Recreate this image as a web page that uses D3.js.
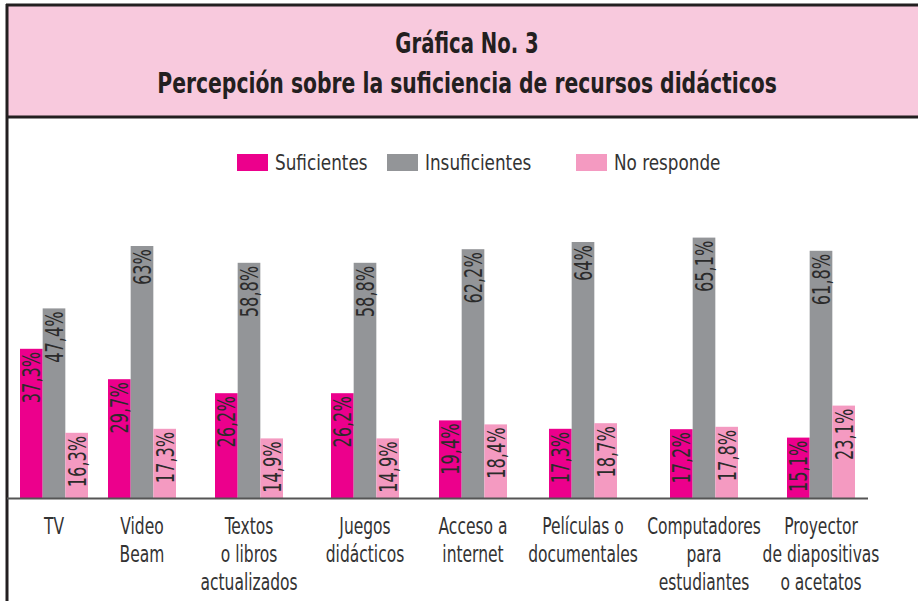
<!DOCTYPE html>
<html>
<head>
<meta charset="utf-8">
<script src="https://cdn.jsdelivr.net/npm/d3@7"></script>
<style>
  html, body { margin: 0; padding: 0; background: #fff; }
  svg { display: block; }
</style>
</head>
<body>
<div id="chart"></div>
<script>
"use strict";

// data
var categories = ["TV", "Video Beam", "Textos o libros actualizados", "Juegos didácticos",
  "Acceso a internet", "Películas o documentales", "Computadores para estudiantes",
  "Proyector de diapositivas o acetatos"];
var categoryLines = [
  ["TV"], ["Video", "Beam"], ["Textos", "o libros", "actualizados"], ["Juegos", "didácticos"],
  ["Acceso a", "internet"], ["Películas o", "documentales"], ["Computadores", "para", "estudiantes"],
  ["Proyector", "de diapositivas", "o acetatos"]
];
var seriesNames = ["Suficientes", "Insuficientes", "No responde"];
var suficientes   = [37.3, 29.7, 26.2, 26.2, 19.4, 17.3, 17.2, 15.1];
var insuficientes = [47.4, 63, 58.8, 58.8, 62.2, 64, 65.1, 61.8];
var noResponde    = [16.3, 17.3, 14.9, 14.9, 18.4, 18.7, 17.8, 23.1];

var colors = ["#ec008c", "#939598", "#f49ac1"];
var titleLines = ["Gráfica No. 3", "Percepción sobre la suficiencia de recursos didácticos"];

// layout
var width = 918, height = 601;
var baseY = 498;
// group centres are spaced unevenly in the original
var groupCenters = [54, 142, 249, 365, 473, 583, 704, 821];
var groupWidth = 68;

var series = [suficientes, insuficientes, noResponde];
var rows = [];
categories.forEach(function(c, i) {
  series.forEach(function(s, j) {
    rows.push({cat: c, key: seriesNames[j], value: s[i], idx: j});
  });
});

var x = d3.scaleOrdinal().domain(categories).range(groupCenters);
var xInner = d3.scaleBand().domain(seriesNames).range([-groupWidth / 2, groupWidth / 2]);
var y = d3.scaleLinear().domain([0, 100]).range([baseY, baseY - 400]);
var color = d3.scaleOrdinal().domain(seriesNames).range(colors);
var fmt = function(v) { return String(v).replace(".", ",") + "%"; };

var narrow = "'Liberation Sans Narrow', 'DejaVu Sans Condensed', 'Roboto Condensed', sans-serif";

var svg = d3.select("#chart").append("svg")
  .attr("width", width)
  .attr("height", height);

// header box
svg.append("rect")
  .attr("x", 7).attr("y", 5)
  .attr("width", width - 7).attr("height", 112)
  .attr("fill", "#f8c9dd");
svg.append("line")
  .attr("x1", 6).attr("x2", width)
  .attr("y1", 5).attr("y2", 5)
  .attr("stroke", "#231f20").attr("stroke-width", 3);
svg.append("line")
  .attr("x1", 6).attr("x2", width)
  .attr("y1", 117).attr("y2", 117)
  .attr("stroke", "#231f20").attr("stroke-width", 3);
svg.append("line")
  .attr("x1", 7).attr("x2", 7)
  .attr("y1", 4).attr("y2", height)
  .attr("stroke", "#231f20").attr("stroke-width", 3);

// title: condensed bold, stretched vertically to match the tall face
svg.append("g").selectAll("text")
  .data(titleLines)
  .enter().append("text")
  .attr("transform", function(d, i) {
    return "translate(467," + (i === 0 ? 53 : 93) + ") scale(" + (i === 0 ? 0.84 : 0.87) + ",1.1)";
  })
  .attr("text-anchor", "middle")
  .attr("font-family", narrow)
  .attr("font-weight", "bold")
  .attr("font-size", 26)
  .attr("fill", "#231f20")
  .text(function(d) { return d; });

// legend
var legendX = [237, 387, 576];
var legend = svg.append("g").selectAll("g")
  .data(seriesNames)
  .enter().append("g")
  .attr("transform", function(d, i) { return "translate(" + legendX[i] + ",154)"; });
legend.append("rect")
  .attr("width", 31).attr("height", 17)
  .attr("fill", function(d) { return color(d); });
legend.append("text")
  .attr("transform", "translate(38,16) scale(0.85,1)")
  .attr("font-family", narrow)
  .attr("font-size", 22)
  .attr("fill", "#333")
  .text(function(d) { return d; });

// bars
var bars = svg.append("g").selectAll("g")
  .data(rows)
  .enter().append("g");

bars.append("rect")
  .attr("x", function(d) { return x(d.cat) + xInner(d.key); })
  .attr("y", function(d) { return y(d.value); })
  .attr("width", xInner.bandwidth())
  .attr("height", function(d) { return baseY - y(d.value); })
  .attr("fill", function(d) { return color(d.key); });

bars.append("text")
  .attr("transform", function(d) {
    var cx = x(d.cat) + xInner(d.key) + xInner.bandwidth() / 2;
    return "translate(" + cx + "," + (y(d.value) + 3) + ") rotate(-90) scale(0.72,1)";
  })
  .attr("dy", "0.36em")
  .attr("text-anchor", "end")
  .attr("font-family", narrow)
  .attr("font-size", 25)
  .attr("fill", "#2b2b2b")
  .text(function(d) { return fmt(d.value); });

// baseline
svg.append("line")
  .attr("x1", 7).attr("x2", 868)
  .attr("y1", baseY + 0.5).attr("y2", baseY + 0.5)
  .attr("stroke", "#555").attr("stroke-width", 2);

// category labels
var catLabels = svg.append("g").selectAll("text")
  .data(categories)
  .enter().append("text")
  .attr("transform", function(d) { return "translate(" + x(d) + ",534) scale(0.75,1)"; })
  .attr("text-anchor", "middle")
  .attr("font-family", narrow)
  .attr("font-size", 23)
  .attr("fill", "#333");
catLabels.selectAll("tspan")
  .data(function(d, i) { return categoryLines[i]; })
  .enter().append("tspan")
  .attr("x", 0)
  .attr("y", function(d, i) { return i * 28; })
  .text(function(d) { return d; });
</script>
</body>
</html>
